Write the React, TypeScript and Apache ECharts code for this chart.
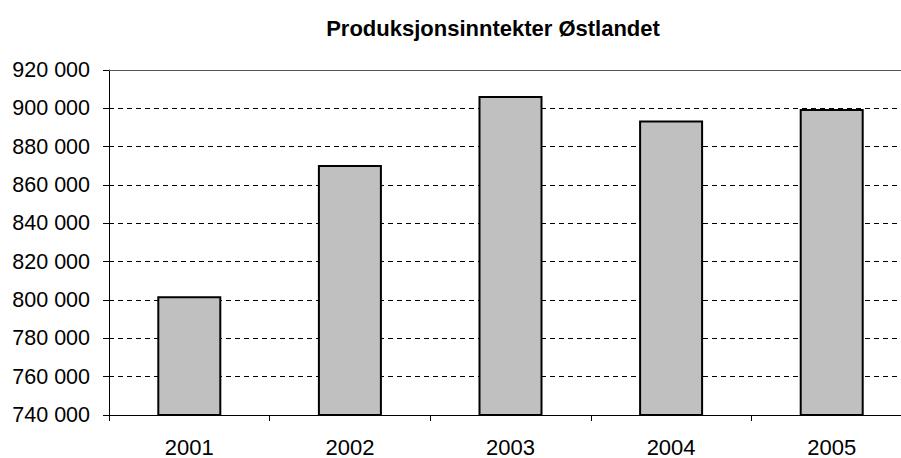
import React, { useEffect, useRef } from "react";
import * as echarts from "echarts";

const title = "Produksjonsinntekter Østlandet";
const categories = ["2001", "2002", "2003", "2004", "2005"];
const values = [802000, 870500, 906400, 893600, 899600];
const yMin = 740000;
const yMax = 920000;
const yStep = 20000;

const fmt = (v: number) => String(v).replace(/\B(?=(\d{3})+(?!\d))/g, " ");

export default function App() {
  const ref = useRef<HTMLDivElement>(null);
  useEffect(() => {
    if (!ref.current) return;
    const chart = echarts.init(ref.current, null, { renderer: "svg" });
    const font = "'Liberation Sans', Arial, sans-serif";
    chart.setOption({
      animation: false,
      backgroundColor: "#ffffff",
      textStyle: { fontFamily: font },
      title: {
        text: title,
        left: 488,
        top: 12,
        textAlign: "center",
        textStyle: { fontFamily: font, fontSize: 22, fontWeight: "bold", color: "#000" },
      },
      grid: { left: 109, top: 70, bottom: 43, right: 0, containLabel: false },
      xAxis: [
        {
          type: "category",
          data: categories,
          axisLine: { show: true, lineStyle: { color: "#000", width: 1 } },
          axisTick: { show: true, length: 6, inside: false, alignWithLabel: false, lineStyle: { color: "#000" } },
          axisLabel: { color: "#000", fontSize: 22, fontFamily: font, margin: 21 },
          splitLine: { show: false },
        },
        {
          type: "category",
          position: "top",
          data: categories,
          axisLine: { show: true, lineStyle: { color: "#555", width: 1 } },
          axisTick: { show: false },
          axisLabel: { show: false },
        },
      ],
      yAxis: {
        type: "value",
        min: yMin,
        max: yMax,
        interval: yStep,
        axisLine: { show: true, lineStyle: { color: "#000", width: 1 } },
        axisTick: { show: true, length: 6, lineStyle: { color: "#000" } },
        axisLabel: { color: "#000", fontSize: 21.5, fontFamily: font, margin: 19, formatter: (v: number) => fmt(v) },
        splitLine: { show: true, lineStyle: { color: "#000", type: [5, 4], width: 1 } },
      },
      series: [
        {
          type: "bar",
          data: values,
          barWidth: 64,
          itemStyle: { color: "#c0c0c0", borderColor: "#000", borderWidth: 2 },
        },
      ],
    });
    return () => chart.dispose();
  }, []);
  return (
    <div style={{ position: "absolute", left: 0, top: 0, width: 901, height: 458, overflow: "hidden", background: "#fff" }}>
      <div ref={ref} style={{ width: 912, height: 458 }} />
    </div>
  );
}
